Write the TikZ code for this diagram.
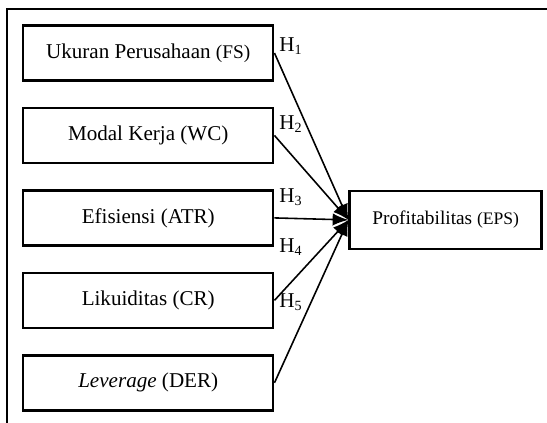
\documentclass[tikz,border=0pt]{standalone}
\usepackage{fontspec}
\setmainfont{Liberation Serif}
\usetikzlibrary{positioning,calc,arrows.meta}

\tikzset{
    var/.style={draw,line width=1.4pt,minimum width=5cm,minimum height=1.1cm,fill=white},
    hyp/.style={-{Latex[length=9pt,width=7pt]},line width=0.9pt},
}

\begin{document}
\begin{tikzpicture}[font=\fontsize{12}{14}\selectfont]

    \useasboundingbox (0,0) rectangle (10.94,-8.46);
    \draw[line width=1.7pt] (0.14,-8.46) coordinate(fb) -- (0.14,-0.18) coordinate(fc) -- (10.94,-0.18) coordinate(fe);

    \node[var,anchor=west] (FS) at (0.44,-1.06) {Ukuran Perusahaan {\fontsize{11}{13}\selectfont(FS)}};
    \node[var, below=0.5cm of FS] (WC) {Modal Kerja (WC)};
    \node[var, below=0.5cm of WC] (ATR) {Efisiensi (ATR)};
    \node[var, below=0.5cm of ATR] (CR) {Likuiditas (CR)};
    \node[var, below=0.5cm of CR] (DER) {\emph{Leverage} (DER)};

    \node[draw,line width=1.4pt,minimum width=3.84cm,minimum height=1.16cm, right=1.48cm of ATR,yshift=-0.04cm,font=\fontsize{11}{13}\selectfont] (EPS) {Profitabilitas {\fontsize{10}{12}\selectfont(EPS)}};

    \foreach \vv in {FS,WC,ATR,CR,DER}{
        \draw[hyp] (\vv.east) -- (EPS.west);
    }

    % hypothesis labels
    \node (H1) at (5.82,-0.92) {H\textsubscript{1}};
    \node (H2) at (5.82,-2.48) {H\textsubscript{2}};
    \node (H3) at (5.82,-3.94) {H\textsubscript{3}};
    \node (H4) at (5.82,-4.94) {H\textsubscript{4}};
    \node (H5) at (5.82,-6.04) {H\textsubscript{5}};

\end{tikzpicture}
\end{document}
